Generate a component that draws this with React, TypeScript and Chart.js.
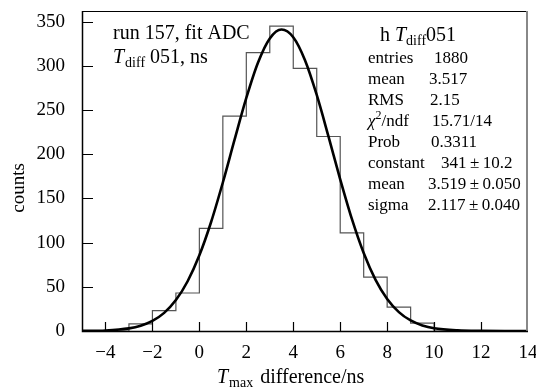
import { useEffect, useRef } from 'react';
import { Chart, registerables } from 'chart.js';
Chart.register(...registerables);

// Histogram: bin lower edges (width 1 ns) and counts
const binLow = [-5, -4, -3, -2, -1, 0, 1, 2, 3, 4, 5, 6, 7, 8, 9, 10, 11, 12, 13];
const counts = [0, 0, 8, 23, 43, 116, 243, 315, 345, 297, 220, 111, 61, 27, 9, 0, 0, 0, 0];
const binWidth = 1;

// Gaussian fit curve
const fitX = [-5, -4, -3, -2.5, -2, -1.5, -1, -0.5, 0, 0.5, 1, 1.5, 2, 2.5, 3, 3.5, 4, 4.5, 5, 5.5, 6, 6.5, 7, 7.5, 8, 8.5, 9, 9.5, 10, 11, 12, 13, 14];
const fitY = [0.1, 0.6, 3, 6, 11.4, 20.5, 35, 56.3, 85.6, 123.3, 168, 216.4, 263.6, 303.7, 330.9, 341, 332.3, 306.3, 267, 220.1, 171.6, 126.5, 88.2, 58.2, 36.3, 21.4, 11.9, 6.3, 3.1, 0.7, 0.1, 0, 0];

const xMin = -5, xMax = 14, xStep = 2;
const yMin = 0, yMax = 362, yStep = 50;

const statsNames = ['entries', 'mean', 'RMS', 'chi2', 'Prob', 'constant', 'mean', 'sigma'];
const statsValues = ['1880', '3.517', '2.15', '15.71/14', '0.3311', '341\u2009\u00B1\u200910.2', '3.519\u2009\u00B1\u20090.050', '2.117\u2009\u00B1\u20090.040'];

const FAM = '"Liberation Serif", "Times New Roman", serif';
const f = (size: number, style = '') => `${style} ${size}px ${FAM}`.trim();

type Run = { t: string; font: string; dy?: number; dx?: number };
function drawRuns(ctx: CanvasRenderingContext2D, x: number, y: number, runs: Run[]) {
  let cx = x;
  for (const r of runs) {
    ctx.font = r.font;
    cx += r.dx || 0;
    ctx.fillText(r.t, cx, y + (r.dy || 0));
    cx += ctx.measureText(r.t).width;
  }
}

const overlay = {
  id: 'overlay',
  afterDraw(chart: any) {
    const ctx: CanvasRenderingContext2D = chart.ctx;
    const a = chart.chartArea;
    const xs = chart.scales.x, ys = chart.scales.y;
    ctx.save();
    // frame
    ctx.strokeStyle = '#000';
    ctx.lineWidth = 1;
    ctx.beginPath();
    ctx.moveTo(a.left, a.top + 0.5); ctx.lineTo(a.right, a.top + 0.5);
    ctx.stroke();
    ctx.strokeStyle = '#888';
    ctx.lineWidth = 2;
    ctx.beginPath();
    ctx.moveTo(a.right - 1, a.top); ctx.lineTo(a.right - 1, a.bottom);
    ctx.stroke();
    ctx.strokeStyle = '#000';
    ctx.lineWidth = 1.5;
    ctx.beginPath();
    ctx.moveTo(a.left + 0.5, a.top); ctx.lineTo(a.left + 0.5, a.bottom + 0.5);
    ctx.lineTo(a.right, a.bottom + 0.5);
    ctx.stroke();
    // inward ticks
    ctx.lineWidth = 1.2;
    ctx.beginPath();
    for (const t of xs.ticks) {
      const px = Math.round(xs.getPixelForValue(t.value)) + 0.5;
      if (px > a.right - 3) continue;
      ctx.moveTo(px, a.bottom); ctx.lineTo(px, a.bottom - 9);
    }
    for (const t of ys.ticks) {
      const py = Math.round(ys.getPixelForValue(t.value)) + 0.5;
      ctx.moveTo(a.left, py); ctx.lineTo(a.left + 11, py);
    }
    ctx.stroke();

    ctx.fillStyle = '#000';
    ctx.textBaseline = 'alphabetic';
    ctx.textAlign = 'left';
    // axis titles
    drawRuns(ctx, 217, 383, [
      { t: 'T', font: f(20, 'italic') },
      { t: 'max', font: f(14), dy: 4, dx: 1 },
      { t: ' difference/ns', font: f(20), dx: 2 },
    ]);
    ctx.save();
    ctx.translate(24, 188);
    ctx.rotate(-Math.PI / 2);
    ctx.textAlign = 'center';
    ctx.font = f(19);
    ctx.fillText('counts', 0, 0);
    ctx.restore();

    // upper-left text
    drawRuns(ctx, 113, 39, [{ t: 'run 157, fit ADC', font: f(20) }]);
    drawRuns(ctx, 113, 63, [
      { t: 'T', font: f(20, 'italic') },
      { t: 'diff', font: f(14), dy: 4, dx: 1 },
      { t: ' 051, ns', font: f(20) },
    ]);

    // stats box
    drawRuns(ctx, 380, 41, [
      { t: 'h ', font: f(20) },
      { t: 'T', font: f(20, 'italic') },
      { t: 'diff', font: f(14), dy: 4 },
      { t: '051', font: f(20) },
    ]);
    const valX = [434, 429, 430, 432, 431, 441, 428, 428];
    for (let i = 0; i < statsNames.length; i++) {
      const y = 63 + i * 21;
      if (statsNames[i] === 'chi2') {
        drawRuns(ctx, 368, y, [
          { t: '\u03C7', font: f(17, 'italic') },
          { t: '2', font: f(12), dy: -7 },
          { t: '/ndf', font: f(17) },
        ]);
      } else {
        drawRuns(ctx, 368, y, [{ t: statsNames[i], font: f(17) }]);
      }
      drawRuns(ctx, valX[i], y, [{ t: statsValues[i], font: f(17) }]);
    }
    ctx.restore();
  },
};

export default function App() {
  const ref = useRef<HTMLCanvasElement>(null);
  useEffect(() => {
    const histData = binLow.map((x, i) => ({ x, y: counts[i] }));
    histData.push({ x: binLow[binLow.length - 1] + binWidth, y: 0 });
    const fitData = fitX.map((x, i) => ({ x, y: fitY[i] }));
    const chart = new Chart(ref.current!, {
      type: 'line',
      data: {
        datasets: [
          {
            label: 'fit',
            data: fitData,
            borderColor: '#000',
            borderWidth: 2.6,
            pointRadius: 0,
            cubicInterpolationMode: 'monotone',
            fill: false,
            order: 0,
          },
          {
            label: 'hist',
            data: histData,
            borderColor: '#555',
            borderWidth: 1.2,
            pointRadius: 0,
            stepped: true,
            fill: false,
            order: 1,
          },
        ],
      },
      options: {
        responsive: false,
        animation: false,
        events: [],
        layout: { autoPadding: false, padding: { top: 11, right: 8, left: 0, bottom: 0 } },
        plugins: { legend: { display: false }, tooltip: { enabled: false } },
        scales: {
          x: {
            type: 'linear',
            min: xMin,
            max: xMax,
            afterFit: (s: any) => { s.height = 56; s.paddingLeft = 0; s.paddingRight = 0; },
            grid: { display: false, drawTicks: false },
            border: { display: false },
            ticks: {
              stepSize: xStep,
              includeBounds: false,
              padding: 11,
              color: '#000',
              font: { family: FAM, size: 19 },
              maxRotation: 0,
              autoSkip: false,
              callback: (v: any) => (v < 0 ? '\u2212' + Math.abs(v) : String(v)),
            },
          },
          y: {
            type: 'linear',
            min: yMin,
            max: yMax,
            afterFit: (s: any) => { s.width = 82; s.paddingTop = 0; s.paddingBottom = 0; },
            grid: { display: false, drawTicks: false },
            border: { display: false },
            ticks: {
              stepSize: yStep,
              includeBounds: false,
              padding: 17,
              color: '#000',
              font: { family: FAM, size: 19 },
            },
          },
        },
      },
      plugins: [overlay],
    });
    return () => chart.destroy();
  }, []);
  return (
    <div style={{ position: 'absolute', left: 0, top: 0, width: 536, height: 387, background: '#fff' }}>
      <canvas ref={ref} width={536} height={387} style={{ width: 536, height: 387 }} />
    </div>
  );
}
